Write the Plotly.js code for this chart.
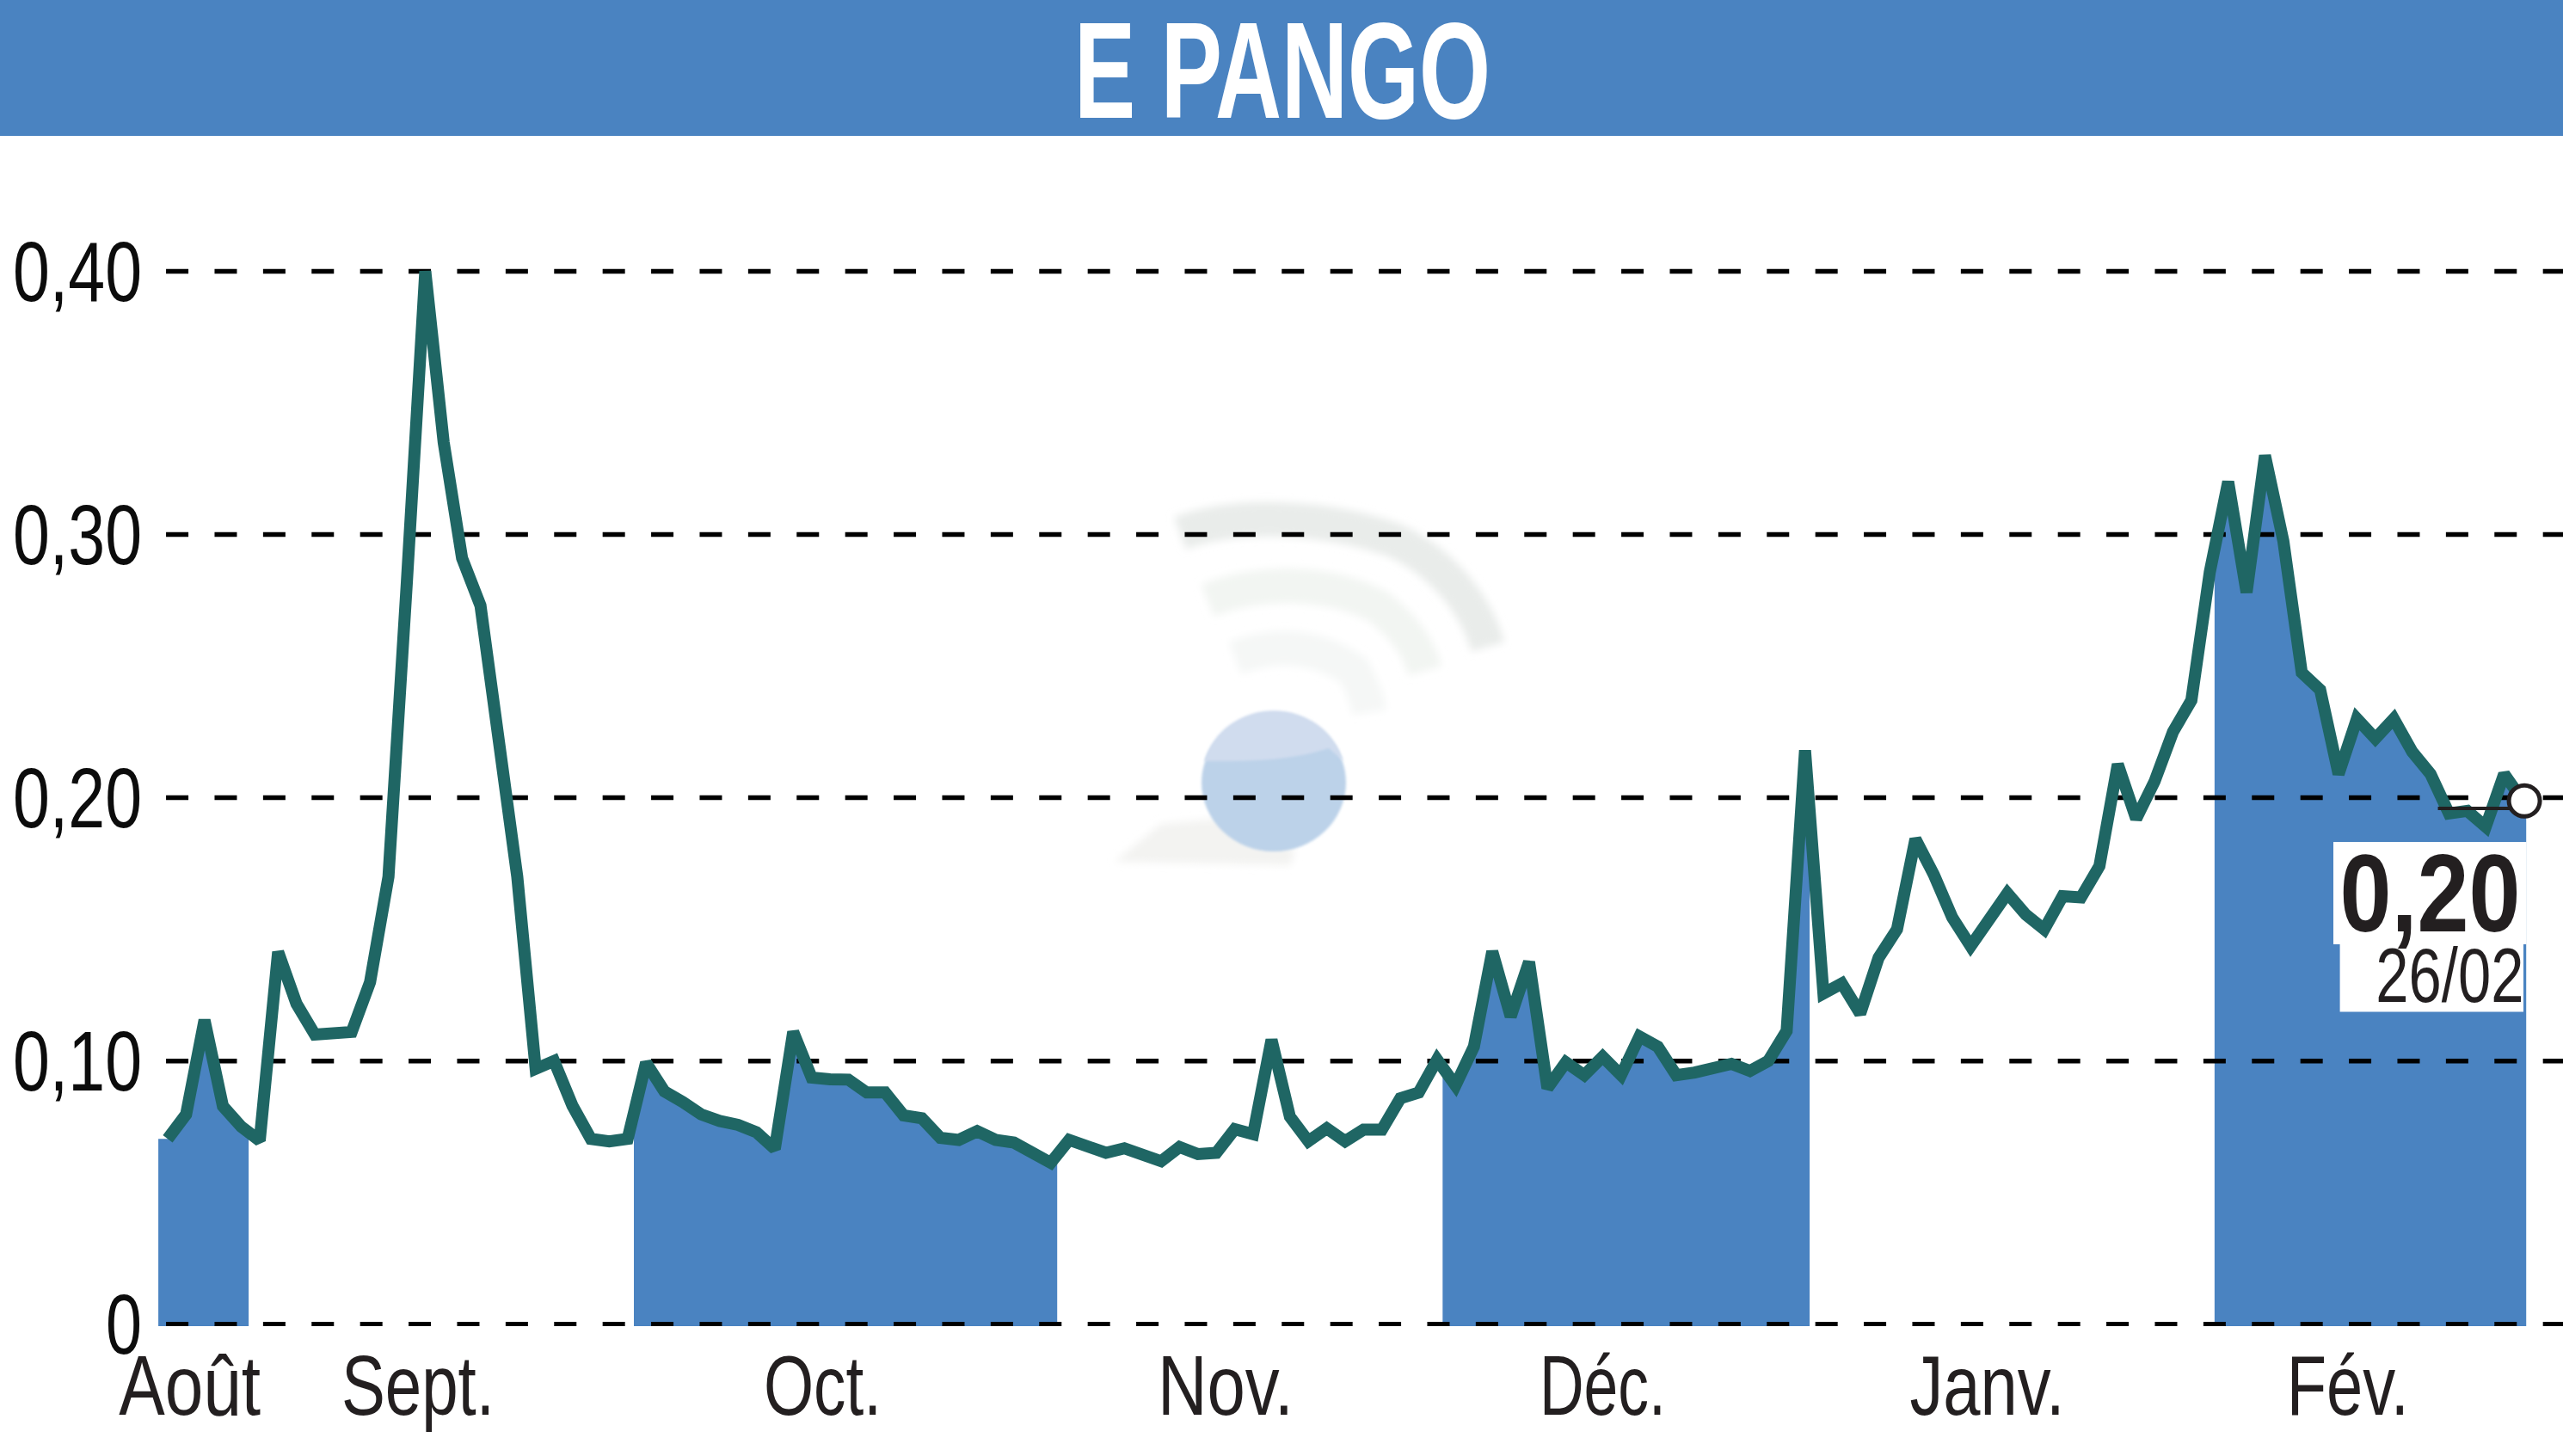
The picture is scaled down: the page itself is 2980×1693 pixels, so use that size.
<!DOCTYPE html>
<html><head><meta charset="utf-8">
<script src="https://cdn.plot.ly/plotly-3.0.1.min.js"></script>
<style>html,body{margin:0;padding:0;background:#fff}#c{width:2980px;height:1693px}</style>
</head><body><div id="c"></div>
<script>
const title = "E PANGO";
const prices = [.0704,.0797,.1155,.0828,.075,.0697,.1414,.1217,.110,.110,.111,.130,.170,.282,.40,.335,.291,.273,.221,.17,
.097,.10,.083,.0704,.0694,.0704,.0993,.0884,.0844,.0797,.0772,.0757,.0729,.0666,.111,.0937,.093,.0929,.088,.088,
.0793,.0782,.0708,.070,.0733,.070,.069,.0657,.0613,.070,.0679,.0651,.0668,.0646,.0619,.0673,.0646,.0651,.0741,.0722,
.108,.0788,.0695,.0744,.0695,.0739,.0739,.0858,.088,.1005,.0907,.1054,.1416,.1169,.1376,.0897,.0995,.0946,.1016,.0946,
.1093,.1054,.0946,.0956,.0973,.0989,.0962,.10,.1114,.218,.1256,.1294,.118,.1392,.150,.1843,.1708,.1545,.1436,.1545,
.1637,.1556,.150,.1626,.1621,.174,.2127,.192,.2062,.225,.237,.2857,.32,.278,.33,.2975,.2475,.241,.209,.23,
.2225,.23,.2175,.209,.194,.195,.189,.209,.199];
const days = prices.map((_, i) => i);
const shadedMonths = [[-0.51, 4.4], [25.34, 48.35], [69.3, 89.25], [111.26, 128.2]];
const yTickValues = [0, 0.1, 0.2, 0.3, 0.4];
const yTickLabels = ["0", "0,10", "0,20", "0,30", "0,40"];
const monthTickValues = [1.2, 13.6, 35.6, 57.5, 78, 98.9, 118.5];
const monthTickLabels = ["Août", "Sept.", "Oct.", "Nov.", "Déc.", "Janv.", "Fév."];
const monthLabelWidths = [165, 178, 137, 158, 147, 180, 142];
const lastValue = "0,20", lastDate = "26/02";
const refLevel = 0.1959;

const BLUE = "#4a83c1", TEAL = "#1f6664", INK = "#231f20", FONT = "'Liberation Sans',sans-serif";
const W = 2980, H = 1693, L = 184, T = 200, B = 1542;
const px = x => (x - L) / (W - L), py = y => (B - y) / (B - T);
const yBottom = -0.00075, yTop = 0.4377, xLeft = -0.514, xRight = 130.2;

function valAt(x) {
  const i = Math.max(0, Math.min(prices.length - 2, Math.floor(x)));
  return prices[i] + (prices[i + 1] - prices[i]) * (x - i);
}
const traces = [];
shadedMonths.forEach(([a, b]) => {
  const inner = days.filter(d => d > a && d < b);
  const xs = [a, a, ...inner, b, b];
  const ys = [yBottom, valAt(Math.max(a, 0)), ...inner.map(d => prices[d]), valAt(b), yBottom];
  traces.push({x: xs, y: ys, mode: "lines", fill: "toself", fillcolor: BLUE, line: {width: 0, color: BLUE}, hoverinfo: "skip"});
});
yTickValues.forEach(v => traces.push({x: [-0.09, xRight], y: [v, v], mode: "lines", cliponaxis: false,
  line: {color: "#000", width: 5.5, dash: "26px,30.4px"}, hoverinfo: "skip"}));
traces.push({x: days, y: prices, mode: "lines", cliponaxis: false, line: {color: TEAL, width: 14, shape: "linear"}, hoverinfo: "skip"});
traces.push({x: [123.4, 128], y: [refLevel, refLevel], mode: "lines", line: {color: INK, width: 4}, hoverinfo: "skip"});
traces.push({x: [128.1], y: [0.1988], mode: "markers", marker: {size: 36, color: "#fff", line: {color: INK, width: 5}}, hoverinfo: "skip"});

const logo = `<svg xmlns='http://www.w3.org/2000/svg' width='600' height='480' viewBox='0 0 600 480'>
<defs><filter id='b' x='-20%' y='-20%' width='140%' height='140%'><feGaussianBlur stdDeviation='5'/></filter>
<filter id='s' x='-10%' y='-10%' width='120%' height='120%'><feGaussianBlur stdDeviation='1.5'/></filter></defs>
<g fill='none' stroke-width='40' filter='url(#b)'>
<path d='M172 80 C 240 55 340 60 421 88 C 475 113 515 160 530 212' stroke='#e9ecea'/>
<path d='M204 158 C 260 136 340 133 402 165 C 435 190 450 215 457 240' stroke='#f2f5f2'/>
<path d='M236 225 C 280 208 330 208 375 241 C 385 260 390 275 392 288' stroke='#f5f7f6'/></g>
<path d='M96 462 L150 418 L240 410 L306 450 L300 466 Z' fill='#f3f3f1' filter='url(#b)'/>
<ellipse cx='281' cy='370' rx='84' ry='80' fill='#bcd2e9' filter='url(#s)'/>
<path d='M200 345 A84 80 0 0 1 362 345 L 345 330 C 300 345 250 345 200 345 Z' fill='#d0dcee' filter='url(#s)'/>
</svg>`;

const rect = (x0, y0, x1, y1, c) => ({type: "rect", xref: "paper", yref: "paper", x0: px(x0), x1: px(x1), y0: py(y0), y1: py(y1),
  fillcolor: c, line: {width: 0}, layer: "above"});

const layout = {
  width: W, height: H, paper_bgcolor: "#fff", plot_bgcolor: "rgba(0,0,0,0)", showlegend: false,
  margin: {l: L, r: 0, t: T, b: H - B, pad: 0},
  xaxis: {range: [xLeft, xRight], showgrid: false, zeroline: false, showline: false, ticks: "", tickmode: "array",
    tickvals: monthTickValues, ticktext: monthTickLabels, tickangle: 0, ticklabelstandoff: 4,
    tickfont: {family: FONT, size: 98, color: INK}, automargin: false},
  yaxis: {range: [yBottom, yTop], showgrid: false, zeroline: false, showline: false, ticks: "", tickmode: "array",
    tickvals: yTickValues, ticktext: yTickLabels, ticklabelstandoff: 18,
    tickfont: {family: FONT, size: 98, color: "#0c0c0c"}, automargin: false},
  shapes: [rect(0, 0, W, 158, BLUE), rect(2713, 979, 2937.5, 1098, "#fff"), rect(2720.6, 1098, 2934, 1176.5, "#fff")],
  images: [{source: "data:image/svg+xml;charset=utf-8," + encodeURIComponent(logo), xref: "paper", yref: "paper",
    x: px(1200), y: py(540), sizex: 600 / (W - L), sizey: 480 / (B - T), xanchor: "left", yanchor: "top", sizing: "stretch", layer: "below"}],
  annotations: [
    {xref: "paper", yref: "paper", x: px(1491), y: py(81), text: "<b>" + title + "</b>", showarrow: false, xanchor: "center", yanchor: "middle",
      font: {family: FONT, size: 160, color: "#fff"}},
    {xref: "paper", yref: "paper", x: px(2825), y: py(1038), text: "<b>" + lastValue + "</b>", showarrow: false, xanchor: "center", yanchor: "middle",
      font: {family: FONT, size: 128, color: INK}},
    {xref: "paper", yref: "paper", x: px(2848), y: py(1134), text: lastDate, showarrow: false, xanchor: "center", yanchor: "middle",
      font: {family: FONT, size: 89, color: INK}}
  ]
};
Plotly.newPlot("c", traces, layout, {staticPlot: true, displayModeBar: false}).then(() => {
  const fit = (el, w) => { el.setAttribute("textLength", w); el.setAttribute("lengthAdjust", "spacingAndGlyphs"); };
  const a = document.querySelectorAll(".annotation-text");
  if (a[0]) fit(a[0], 484);
  if (a[1]) fit(a[1], 210);
  if (a[2]) fit(a[2], 172);
  document.querySelectorAll(".xtick text").forEach((el, i) => fit(el, monthLabelWidths[i]));
  document.querySelectorAll(".ytick text").forEach(el => fit(el, el.textContent.length > 1 ? 150 : 42));
});
</script></body></html>
